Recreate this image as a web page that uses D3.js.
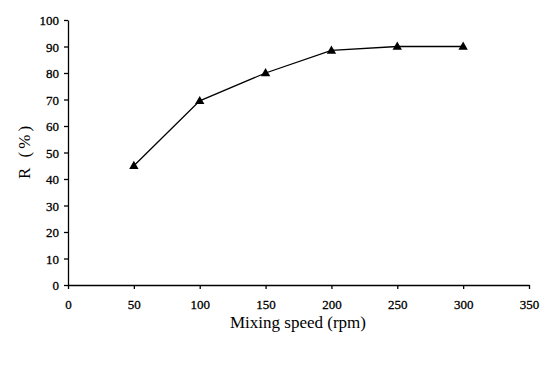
<!DOCTYPE html>
<html>
<head>
<meta charset="utf-8">
<script src="https://cdn.jsdelivr.net/npm/d3@7"></script>
<style>
  html, body { margin: 0; padding: 0; background: #fff; }
  svg text { font-family: "Liberation Serif", "Times New Roman", serif; fill: #000; }
</style>
</head>
<body>
<svg id="chart" width="560" height="365"></svg>
<script>
// Mixing speed (rpm) versus removal R (%)
const speeds = [50, 100, 150, 200, 250, 300];
const removal = [45, 69.5, 80, 88.5, 90, 90];
const xTicks = [0, 50, 100, 150, 200, 250, 300, 350];
const yTicks = [0, 10, 20, 30, 40, 50, 60, 70, 80, 90, 100];

const svg = d3.select("#chart");
const x = d3.scaleLinear().domain([0, 350]).range([68, 529]);
const y = d3.scaleLinear().domain([0, 100]).range([285, 20]);

const xAxis = svg.append("g")
  .attr("transform", `translate(0,${y(0)})`)
  .call(d3.axisBottom(x).tickValues(xTicks).tickSize(4).tickPadding(11).tickSizeOuter(0));
const yAxis = svg.append("g")
  .attr("transform", `translate(${x(0)},0)`)
  .call(d3.axisLeft(y).tickValues(yTicks).tickSize(4).tickPadding(5).tickSizeOuter(0));

[xAxis, yAxis].forEach(g => {
  g.select(".domain").attr("stroke", "#000").attr("stroke-width", 1.3);
  g.selectAll(".tick line").attr("stroke", "#000").attr("stroke-width", 1.3);
  g.selectAll(".tick text")
    .attr("font-size", 13)
    .attr("font-family", "Liberation Serif, serif")
    .attr("fill", "#000")
    .attr("stroke", "#000")
    .attr("stroke-width", 0.3);
});
yAxis.selectAll(".tick text").attr("dy", "0.36em");

// line
const line = d3.line().x((d, i) => x(speeds[i])).y(d => y(d));
svg.append("path")
  .datum(removal)
  .attr("fill", "none")
  .attr("stroke", "#000")
  .attr("stroke-width", 1.3)
  .attr("d", line);

// triangle markers
const tri = d3.symbol().type(d3.symbolTriangle).size(38);
svg.selectAll(".pt")
  .data(removal)
  .join("path")
  .attr("class", "pt")
  .attr("transform", (d, i) => `translate(${x(speeds[i])},${y(d) + 0.5})`)
  .attr("d", tri)
  .attr("fill", "#000");

// axis titles
svg.append("text")
  .attr("x", 298).attr("y", 328)
  .attr("text-anchor", "middle")
  .attr("font-size", 17)
  .text("Mixing speed (rpm)");

svg.append("text")
  .attr("transform", "translate(30,151) rotate(-90)")
  .attr("text-anchor", "middle")
  .attr("font-size", 17)
  .attr("letter-spacing", 3)
  .text("R (%)");
</script>
</body>
</html>
